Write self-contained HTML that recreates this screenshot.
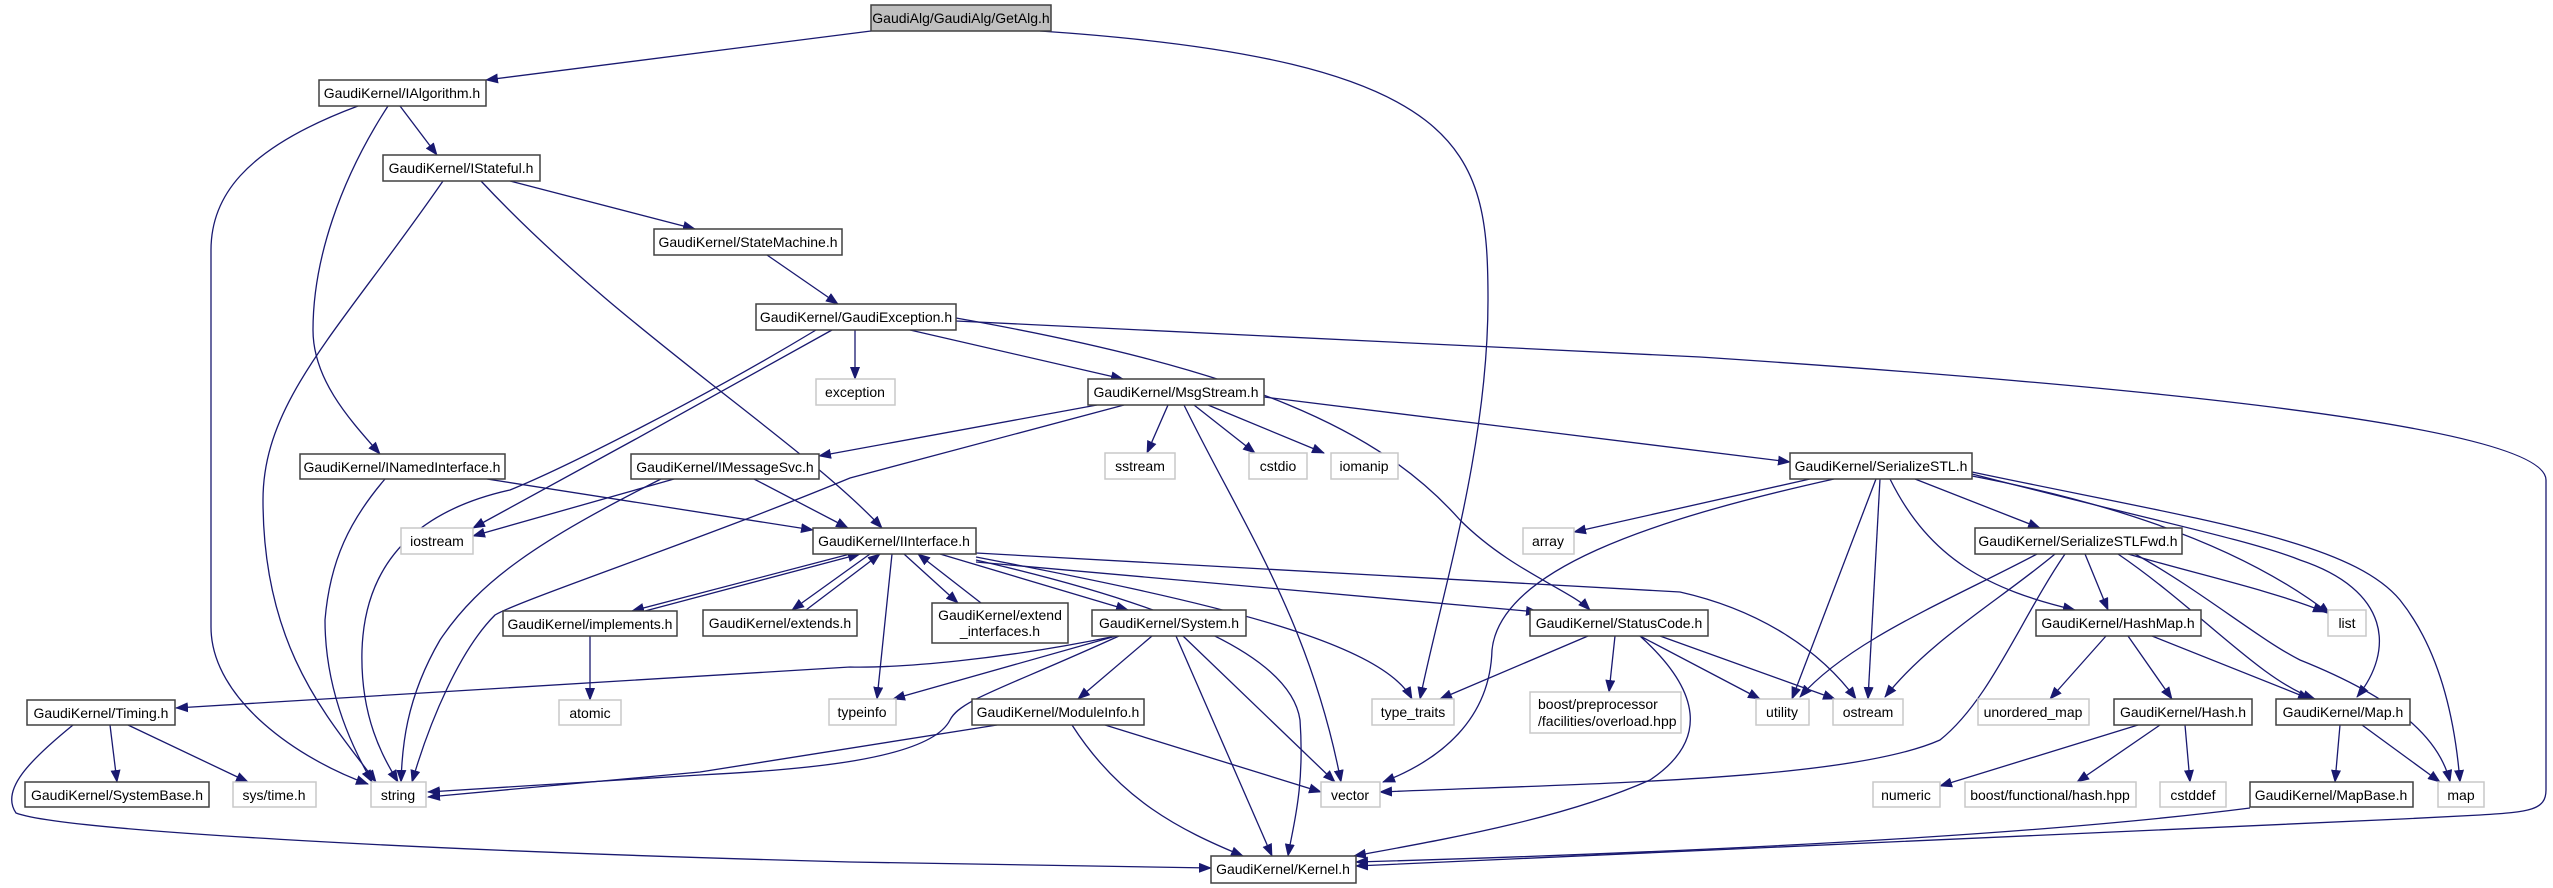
<!DOCTYPE html>
<html><head><meta charset="utf-8"><style>
html,body{margin:0;padding:0;background:#fff;}
svg{display:block;}
text{font-family:"Liberation Sans",Arial,sans-serif;font-size:14px;fill:#000;}
.e{fill:none;stroke:#191970;stroke-width:1.3;marker-end:url(#a);}
.n rect{fill:#fff;stroke:#404040;stroke-width:1.5;}
.s rect{fill:#fff;stroke:#c8c8c8;stroke-width:1.5;}
</style></head><body>
<svg width="2553" height="888" viewBox="0 0 2553 888" xmlns="http://www.w3.org/2000/svg">
<defs><marker id="a" markerWidth="13" markerHeight="10" refX="12" refY="5" orient="auto" markerUnits="userSpaceOnUse"><path d="M0,0L13,5L0,10z" fill="#191970"/></marker></defs>

<!-- edges -->
<path class="e" d="M871,31 L486,80"/>
<path class="e" d="M1040,31 C1470,60 1488,150 1488,300 C1488,450 1440,600 1420,699"/>
<path class="e" d="M400,106 L437,155"/>
<path class="e" d="M358,106 C240,150 211,200 211,250 L211,627 C211,700 300,760 368,784"/>
<path class="e" d="M388,106 C340,180 313,260 313,330 C313,380 350,420 380,454"/>
<path class="e" d="M510,181 L695,229"/>
<path class="e" d="M443,181 C340,330 263,400 263,500 C263,650 330,720 376,782"/>
<path class="e" d="M481,181 C620,330 800,440 882,528"/>
<path class="e" d="M767,255 L838,304"/>
<path class="e" d="M855,330 L855,379"/>
<path class="e" d="M910,330 L1123,379"/>
<path class="e" d="M956,318 C1250,370 1380,430 1460,520 C1510,570 1570,590 1590,610"/>
<path class="e" d="M956,321 L1700,357 C2200,390 2546,430 2546,480 L2546,790 C2546,810 2530,812 2480,815 C2000,840 1500,860 1356,866"/>
<path class="e" d="M816,330 C700,400 560,470 510,490 C420,510 365,560 362,650 C360,720 385,760 398,782"/>
<path class="e" d="M832,330 L634,440 L473,528"/>
<path class="e" d="M1168,405 L1147,453"/>
<path class="e" d="M1194,405 L1255,453"/>
<path class="e" d="M1208,405 L1324,453"/>
<path class="e" d="M1264,397 L1790,462"/>
<path class="e" d="M1097,405 L819,456"/>
<path class="e" d="M1124,405 L850,478 C700,540 520,600 495,615 C460,650 430,720 412,782"/>
<path class="e" d="M1184,405 C1240,520 1310,620 1341,782"/>
<path class="e" d="M487,479 L813,530"/>
<path class="e" d="M385,479 C350,520 330,560 325,620 C325,700 360,760 372,782"/>
<path class="e" d="M674,479 L473,536"/>
<path class="e" d="M661,479 C540,540 480,580 440,640 C405,700 402,750 401,782"/>
<path class="e" d="M754,479 L848,528"/>
<path class="e" d="M850,554 L632,611"/>
<path class="e" d="M645,611 L860,554"/>
<path class="e" d="M870,554 L792,610"/>
<path class="e" d="M806,610 L880,554"/>
<path class="e" d="M904,554 L958,603"/>
<path class="e" d="M981,603 L918,554"/>
<path class="e" d="M940,554 L1128,610"/>
<path class="e" d="M892,554 L877,699"/>
<path class="e" d="M976,560 C1150,600 1290,650 1300,720 C1305,790 1292,830 1288,856"/>
<path class="e" d="M976,557 C1200,600 1380,640 1412,699"/>
<path class="e" d="M976,553 L1680,592 C1760,610 1820,650 1856,699"/>
<path class="e" d="M976,562 L1538,612"/>
<path class="e" d="M590,636 L590,700"/>
<path class="e" d="M1116,636 C1000,660 900,668 850,667 L176,708"/>
<path class="e" d="M1116,636 L893,699"/>
<path class="e" d="M1119,636 C1000,690 960,700 950,720 C930,760 800,770 700,775 L428,792"/>
<path class="e" d="M997,725 L700,772 L428,797"/>
<path class="e" d="M1152,636 L1078,699"/>
<path class="e" d="M1176,636 L1272,856"/>
<path class="e" d="M1183,636 L1335,782"/>
<path class="e" d="M1105,725 L1321,792"/>
<path class="e" d="M1072,725 C1120,800 1180,830 1243,856"/>
<path class="e" d="M110,725 L117,782"/>
<path class="e" d="M128,725 L248,782"/>
<path class="e" d="M73,725 C30,760 0,790 16,813 C60,830 400,850 850,862 L1211,868"/>
<path class="e" d="M1588,636 L1440,699"/>
<path class="e" d="M1615,636 L1609,692"/>
<path class="e" d="M1640,636 L1760,699"/>
<path class="e" d="M1660,636 L1835,699"/>
<path class="e" d="M1640,636 C1700,690 1710,740 1650,780 C1560,820 1440,840 1354,856"/>
<path class="e" d="M1810,479 L1574,532"/>
<path class="e" d="M1834,479 C1650,520 1500,570 1492,650 C1490,720 1440,760 1383,782"/>
<path class="e" d="M1876,479 L1792,699"/>
<path class="e" d="M1880,479 L1868,699"/>
<path class="e" d="M1890,479 C1930,560 1990,590 2075,610"/>
<path class="e" d="M1915,479 L2040,528"/>
<path class="e" d="M1972,476 C2150,510 2260,560 2330,614"/>
<path class="e" d="M1972,474 C2150,520 2250,540 2300,560 C2390,590 2395,650 2357,697"/>
<path class="e" d="M1972,472 C2200,520 2350,540 2400,600 C2440,650 2455,720 2460,782"/>
<path class="e" d="M2128,554 C2200,575 2270,590 2325,612"/>
<path class="e" d="M2085,554 L2108,610"/>
<path class="e" d="M2037,554 C1950,600 1850,640 1800,697"/>
<path class="e" d="M2055,554 C2000,600 1930,640 1885,697"/>
<path class="e" d="M2065,554 C2020,620 1990,700 1940,740 C1850,780 1600,783 1380,792"/>
<path class="e" d="M2118,554 C2200,610 2260,680 2315,699"/>
<path class="e" d="M2135,554 C2200,590 2260,640 2300,660 C2400,700 2440,740 2450,782"/>
<path class="e" d="M2106,636 L2050,699"/>
<path class="e" d="M2128,636 L2172,699"/>
<path class="e" d="M2152,636 L2310,699"/>
<path class="e" d="M2138,725 L1940,786"/>
<path class="e" d="M2160,725 L2077,782"/>
<path class="e" d="M2185,725 L2190,782"/>
<path class="e" d="M2340,725 L2335,782"/>
<path class="e" d="M2362,725 L2440,782"/>
<path class="e" d="M2250,808 C2000,840 1600,855 1356,862"/>

<!-- nodes -->
<g class="n"><rect x="871" y="5" width="180" height="26" style="fill:#bfbfbf"/><text x="961" y="23" text-anchor="middle">GaudiAlg/GaudiAlg/GetAlg.h</text></g>
<g class="n"><rect x="319" y="80" width="167" height="26"/><text x="402" y="98" text-anchor="middle">GaudiKernel/IAlgorithm.h</text></g>
<g class="n"><rect x="383" y="155" width="157" height="26"/><text x="461" y="173" text-anchor="middle">GaudiKernel/IStateful.h</text></g>
<g class="n"><rect x="654" y="229" width="188" height="26"/><text x="748" y="247" text-anchor="middle">GaudiKernel/StateMachine.h</text></g>
<g class="n"><rect x="756" y="304" width="200" height="26"/><text x="856" y="322" text-anchor="middle">GaudiKernel/GaudiException.h</text></g>
<g class="s"><rect x="816" y="379" width="79" height="26"/><text x="855" y="397" text-anchor="middle">exception</text></g>
<g class="n"><rect x="1088" y="379" width="176" height="26"/><text x="1176" y="397" text-anchor="middle">GaudiKernel/MsgStream.h</text></g>
<g class="s"><rect x="1105" y="453" width="70" height="26"/><text x="1140" y="471" text-anchor="middle">sstream</text></g>
<g class="s"><rect x="1249" y="453" width="58" height="26"/><text x="1278" y="471" text-anchor="middle">cstdio</text></g>
<g class="s"><rect x="1331" y="453" width="67" height="26"/><text x="1364" y="471" text-anchor="middle">iomanip</text></g>
<g class="n"><rect x="1790" y="453" width="182" height="26"/><text x="1881" y="471" text-anchor="middle">GaudiKernel/SerializeSTL.h</text></g>
<g class="n"><rect x="300" y="454" width="205" height="25"/><text x="402" y="472" text-anchor="middle">GaudiKernel/INamedInterface.h</text></g>
<g class="n"><rect x="631" y="454" width="188" height="25"/><text x="725" y="472" text-anchor="middle">GaudiKernel/IMessageSvc.h</text></g>
<g class="s"><rect x="401" y="528" width="72" height="26"/><text x="437" y="546" text-anchor="middle">iostream</text></g>
<g class="n"><rect x="813" y="528" width="163" height="26"/><text x="894" y="546" text-anchor="middle">GaudiKernel/IInterface.h</text></g>
<g class="s"><rect x="1523" y="528" width="51" height="26"/><text x="1548" y="546" text-anchor="middle">array</text></g>
<g class="n"><rect x="1975" y="528" width="207" height="26"/><text x="2078" y="546" text-anchor="middle">GaudiKernel/SerializeSTLFwd.h</text></g>
<g class="n"><rect x="503" y="611" width="174" height="25"/><text x="590" y="629" text-anchor="middle">GaudiKernel/implements.h</text></g>
<g class="n"><rect x="703" y="610" width="154" height="26"/><text x="780" y="628" text-anchor="middle">GaudiKernel/extends.h</text></g>
<g class="n"><rect x="932" y="603" width="136" height="40"/><text x="1000" y="620" text-anchor="middle">GaudiKernel/extend</text><text x="1000" y="636" text-anchor="middle">_interfaces.h</text></g>
<g class="n"><rect x="1092" y="610" width="154" height="26"/><text x="1169" y="628" text-anchor="middle">GaudiKernel/System.h</text></g>
<g class="n"><rect x="1530" y="610" width="178" height="26"/><text x="1619" y="628" text-anchor="middle">GaudiKernel/StatusCode.h</text></g>
<g class="n"><rect x="2036" y="610" width="165" height="26"/><text x="2118" y="628" text-anchor="middle">GaudiKernel/HashMap.h</text></g>
<g class="s"><rect x="2328" y="610" width="38" height="26"/><text x="2347" y="628" text-anchor="middle">list</text></g>
<g class="n"><rect x="27" y="700" width="148" height="25"/><text x="101" y="718" text-anchor="middle">GaudiKernel/Timing.h</text></g>
<g class="s"><rect x="559" y="700" width="62" height="25"/><text x="590" y="718" text-anchor="middle">atomic</text></g>
<g class="s"><rect x="829" y="699" width="67" height="26"/><text x="862" y="717" text-anchor="middle">typeinfo</text></g>
<g class="n"><rect x="972" y="699" width="172" height="26"/><text x="1058" y="717" text-anchor="middle">GaudiKernel/ModuleInfo.h</text></g>
<g class="s"><rect x="1372" y="699" width="82" height="26"/><text x="1413" y="717" text-anchor="middle">type_traits</text></g>
<g class="s"><rect x="1530" y="692" width="151" height="41"/><text x="1538" y="709">boost/preprocessor</text><text x="1538" y="726">/facilities/overload.hpp</text></g>
<g class="s"><rect x="1756" y="699" width="53" height="26"/><text x="1782" y="717" text-anchor="middle">utility</text></g>
<g class="s"><rect x="1833" y="699" width="70" height="26"/><text x="1868" y="717" text-anchor="middle">ostream</text></g>
<g class="s"><rect x="1978" y="699" width="111" height="26"/><text x="2033" y="717" text-anchor="middle">unordered_map</text></g>
<g class="n"><rect x="2114" y="699" width="138" height="26"/><text x="2183" y="717" text-anchor="middle">GaudiKernel/Hash.h</text></g>
<g class="n"><rect x="2276" y="699" width="134" height="26"/><text x="2343" y="717" text-anchor="middle">GaudiKernel/Map.h</text></g>
<g class="n"><rect x="25" y="782" width="184" height="25"/><text x="117" y="800" text-anchor="middle">GaudiKernel/SystemBase.h</text></g>
<g class="s"><rect x="233" y="782" width="83" height="25"/><text x="274" y="800" text-anchor="middle">sys/time.h</text></g>
<g class="s"><rect x="371" y="782" width="55" height="25"/><text x="398" y="800" text-anchor="middle">string</text></g>
<g class="s"><rect x="1321" y="782" width="59" height="25"/><text x="1350" y="800" text-anchor="middle">vector</text></g>
<g class="s"><rect x="1873" y="782" width="67" height="25"/><text x="1906" y="800" text-anchor="middle">numeric</text></g>
<g class="s"><rect x="1965" y="782" width="171" height="25"/><text x="2050" y="800" text-anchor="middle">boost/functional/hash.hpp</text></g>
<g class="s"><rect x="2160" y="782" width="66" height="25"/><text x="2193" y="800" text-anchor="middle">cstddef</text></g>
<g class="n"><rect x="2250" y="782" width="163" height="25"/><text x="2331" y="800" text-anchor="middle">GaudiKernel/MapBase.h</text></g>
<g class="s"><rect x="2438" y="782" width="46" height="25"/><text x="2461" y="800" text-anchor="middle">map</text></g>
<g class="n"><rect x="1211" y="856" width="145" height="27"/><text x="1283" y="874" text-anchor="middle">GaudiKernel/Kernel.h</text></g>
</svg>
</body></html>
